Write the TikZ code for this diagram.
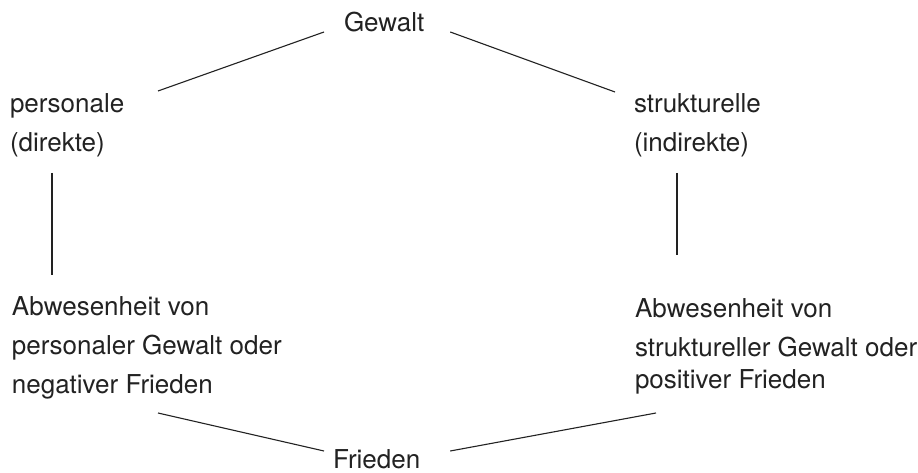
\documentclass[tikz,border=0pt]{standalone}
\usepackage{fontspec}
\setmainfont{TeX Gyre Heros}
\usetikzlibrary{calc}
\definecolor{ink}{HTML}{222222}
\tikzset{
  lbl/.style={inner sep=0pt, outer sep=0pt, anchor=base west, align=left, text=ink,
    font={\fontsize{26}{39}\selectfont}},
  conn/.style={draw=ink, line width=1.1pt}
}
\begin{document}
\begin{tikzpicture}[x=1pt,y=-1pt]
\useasboundingbox[fill=white] (0,0) rectangle (918,473);
% base anchor of a multi-line node = baseline of its last line
\node[lbl] (gew)  at (344,32)  {Gewalt};
\node[lbl] (pers) at (10,152)  {personale\\(direkte)};
\node[lbl] (strk) at (634,152) {strukturelle\\(indirekte)};
\node[lbl] (abwp) at (12,393)  {Abwesenheit von\\personaler Gewalt oder\\negativer Frieden};
\node[lbl] (abws) at (635,388) {Abwesenheit von\\struktureller Gewalt oder\\[-7pt]positiver Frieden};
\node[lbl] (frd)  at (333,468) {Frieden};
\draw[conn] ($(pers.base west)+(148,-61)$) -- ($(gew.base west)+(-20,0)$);
\draw[conn] ($(gew.base east)+(26,0)$) -- ($(strk.base west)+(-19,-60)$);
\draw[conn] ($(pers.base west)+(42,21)$) -- ($(abwp.base west)+(40,-118)$);
\draw[conn] ($(strk.base west)+(43,21)$) -- ($(abws.base west)+(42,-133)$);
\draw[conn] ($(abwp.base west)+(146,20)$) -- ($(frd.base west)+(-9,-17)$);
\draw[conn] ($(frd.base east)+(30,-17)$) -- ($(abws.base west)+(21,25)$);
\end{tikzpicture}
\end{document}
